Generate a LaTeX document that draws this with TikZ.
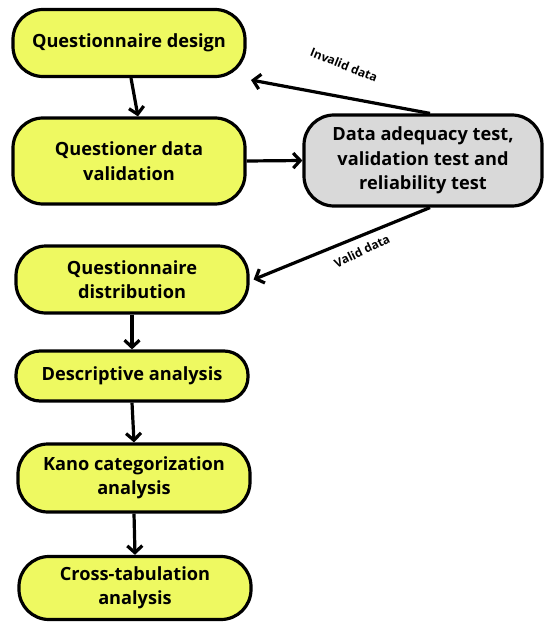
\documentclass[tikz,border=0pt]{standalone}
\usepackage{fontspec}
\setmainfont{Open Sans}
\usetikzlibrary{arrows.meta,calc}
\definecolor{yfill}{HTML}{EEF961}
\definecolor{gfill}{HTML}{D9D9D9}
\begin{document}
\begin{tikzpicture}[x=1pt,y=-1pt]
\useasboundingbox (0,0) rectangle (545,623);
\tikzset{
  ybox/.style={draw=black, line width=3.2pt, rounded corners=30pt, fill=yfill, align=center,
    font=\bfseries\fontsize{18.2}{24.5}\selectfont, inner sep=0pt},
  gbox/.style={ybox, fill=gfill},
  arr/.style={line width=3.2pt, -{Straight Barb[length=7pt,width=15pt,line width=3.2pt]}},
  lbl/.style={font=\bfseries\fontsize{12}{13}\selectfont, inner sep=0pt}
}
\node[ybox, minimum width=232pt, minimum height=67pt] (qd) at (129,43) {Questionnaire design};
\node[ybox, minimum width=232pt, minimum height=86pt] (qv) at (129,161) {Questioner data\\validation};
\node[gbox, minimum width=238pt, minimum height=91pt] (dt) at (423,160.5) {Data adequacy test,\\validation test and\\reliability test};
\node[ybox, minimum width=232pt, minimum height=67pt] (qdist) at (132,279.5) {Questionnaire\\distribution};
\node[ybox, rounded corners=24pt, minimum width=232pt, minimum height=50pt] (da) at (132,376) {Descriptive analysis};
\node[ybox, minimum width=232pt, minimum height=68pt] (ka) at (134,478) {Kano categorization\\analysis};
\node[ybox, minimum width=232pt, minimum height=63pt] (ct) at (135,588) {Cross-tabulation\\analysis};
\coordinate (inv) at (251,80);
\draw[arr] ([xshift=2pt]qd.south) -- ([xshift=9pt]qv.north);
\draw[arr] (qv.east) -- (dt.west);
\draw[arr] ([xshift=7pt]dt.north) -- (inv);
\draw[arr] ([xshift=7pt]dt.south) -- ([xshift=4pt]qdist.east);
\draw[arr] (qdist.south) -- (da.north);
\draw[arr] (da.south) -- (ka.north);
\draw[arr] (ka.south) -- (ct.north);
\node[lbl, rotate=-22] (il) at (344,65) {Invalid data};
\node[lbl, rotate=26] (vl) at (362,251) {Valid data};
\end{tikzpicture}
\end{document}
